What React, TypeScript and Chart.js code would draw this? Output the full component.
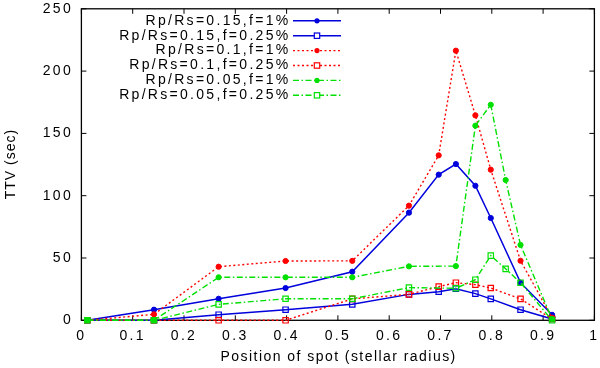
import { useEffect, useRef } from 'react';
import { Chart, registerables } from 'chart.js';

Chart.register(...registerables);

// spot positions (stellar radius)
const posBlueRed = [0.0115, 0.1415, 0.2675, 0.398, 0.528, 0.6385, 0.6965, 0.730, 0.768, 0.798, 0.856, 0.9175];
const posGreen = [0.0115, 0.1415, 0.2675, 0.398, 0.528, 0.6385, 0.730, 0.768, 0.798, 0.827, 0.856, 0.9175];

// TTV (sec)
const ttvR015f1 = [0, 8.5, 17.3, 25.9, 39.0, 86.4, 116.9, 125.4, 108.0, 82.1, 30.2, 4.4];
const ttvR015f025 = [0, 0, 4.5, 8.5, 12.8, 20.8, 23.0, 25.4, 21.4, 17.2, 8.5, 1.0];
const ttvR01f1 = [0, 4.8, 43.0, 47.6, 47.7, 92.0, 132.4, 216.4, 164.5, 120.9, 47.8, 2.0];
const ttvR01f025 = [0, 0, 0, 0, 17.2, 20.8, 27.0, 30.2, 28.6, 25.9, 17.2, 1.0];
const ttvR005f1 = [0, 0, 34.5, 34.5, 34.5, 43.3, 43.5, 156.2, 173.0, 112.6, 60.5, 1.0];
const ttvR005f025 = [0, 0, 12.8, 17.3, 17.3, 26.2, 25.7, 32.6, 51.9, 41.3, 30.2, 0];

const seriesLabels = [
  'Rp/Rs=0.15,f=1%',
  'Rp/Rs=0.15,f=0.25%',
  'Rp/Rs=0.1,f=1%',
  'Rp/Rs=0.1,f=0.25%',
  'Rp/Rs=0.05,f=1%',
  'Rp/Rs=0.05,f=0.25%',
];

const xTitle = 'Position of spot (stellar radius)';
const yTitle = 'TTV (sec)';

const BLUE = '#0000dd';
const RED = '#ff0000';
const GREEN = '#00e000';
const FONT = "'Liberation Sans', Arial, Helvetica, sans-serif";
const LS = 2.3;
const LS_TITLE = 1.45;

const DOTTED = [2, 2.5];
const DASHDOT = [6, 2.5, 1.5, 2.5];

type Style = { color: string; dash: number[]; marker: 'circle' | 'rect'; width: number };
const styles: Style[] = [
  { color: BLUE, dash: [], marker: 'circle', width: 1.5 },
  { color: BLUE, dash: [], marker: 'rect', width: 1.5 },
  { color: RED, dash: DOTTED, marker: 'circle', width: 1.4 },
  { color: RED, dash: DOTTED, marker: 'rect', width: 1.4 },
  { color: GREEN, dash: DASHDOT, marker: 'circle', width: 1.4 },
  { color: GREEN, dash: DASHDOT, marker: 'rect', width: 1.4 },
];

const seriesX = [posBlueRed, posBlueRed, posBlueRed, posBlueRed, posGreen, posGreen];
const seriesY = [ttvR015f1, ttvR015f025, ttvR01f1, ttvR01f025, ttvR005f1, ttvR005f025];

const framePlugin = {
  id: 'gnuframe',
  beforeDraw(chart: any) {
    (chart.ctx as any).letterSpacing = LS + 'px';
  },
  beforeDatasetsDraw(chart: any) {
    const { ctx, chartArea, scales } = chart;
    const { left, right, top, bottom } = chartArea;
    ctx.save();
    ctx.strokeStyle = '#000';
    ctx.lineWidth = 1.3;
    ctx.setLineDash([]);
    ctx.strokeRect(left, top, right - left, bottom - top);
    ctx.lineWidth = 1;
    const tl = 5;
    ctx.beginPath();
    scales.x.ticks.forEach((t: any) => {
      const px = scales.x.getPixelForValue(t.value);
      ctx.moveTo(px, bottom);
      ctx.lineTo(px, bottom - tl);
      ctx.moveTo(px, top);
      ctx.lineTo(px, top + tl);
    });
    scales.y.ticks.forEach((t: any) => {
      const py = scales.y.getPixelForValue(t.value);
      ctx.moveTo(left, py);
      ctx.lineTo(left + tl, py);
      ctx.moveTo(right, py);
      ctx.lineTo(right - tl, py);
    });
    ctx.stroke();
    ctx.restore();
  },
  afterDraw(chart: any) {
    const { ctx, chartArea } = chart;
    ctx.save();
    ctx.font = `14px ${FONT}`;
    ctx.fillStyle = '#000';
    ctx.textBaseline = 'middle';
    ctx.textAlign = 'center';
    // axis titles
    (ctx as any).letterSpacing = LS_TITLE + 'px';
    ctx.fillText(xTitle, (chartArea.left + chartArea.right) / 2 + LS_TITLE / 2, 357.5);
    (ctx as any).letterSpacing = '1px';
    ctx.save();
    ctx.translate(11.5, (chartArea.top + chartArea.bottom) / 2);
    ctx.rotate(-Math.PI / 2);
    ctx.fillText(yTitle, 0.5, 0);
    ctx.restore();
    // legend
    (ctx as any).letterSpacing = LS + 'px';
    ctx.textAlign = 'right';
    const textRight = 290.5;
    const x0 = 293;
    const x1 = 341;
    const xm = 317;
    seriesLabels.forEach((lab, i) => {
      const y = 20.8 + i * 14.9;
      const s = styles[i];
      ctx.fillStyle = '#000';
      ctx.fillText(lab, textRight, y);
      ctx.strokeStyle = s.color;
      ctx.lineWidth = s.width;
      ctx.setLineDash(s.dash);
      ctx.beginPath();
      ctx.moveTo(x0, y);
      ctx.lineTo(x1, y);
      ctx.stroke();
      ctx.setLineDash([]);
      if (s.marker === 'circle') {
        ctx.fillStyle = s.color;
        ctx.beginPath();
        ctx.arc(xm, y, 2.6, 0, Math.PI * 2);
        ctx.fill();
      } else {
        ctx.fillStyle = '#fff';
        ctx.fillRect(xm - 2.7, y - 2.7, 5.4, 5.4);
        ctx.lineWidth = 1.2;
        ctx.strokeRect(xm - 2.7, y - 2.7, 5.4, 5.4);
      }
    });
    ctx.restore();
  },
};

export default function App() {
  const ref = useRef<HTMLCanvasElement>(null);
  useEffect(() => {
    if (!ref.current) return;
    const datasets = seriesLabels.map((label, i) => {
      const s = styles[i];
      return {
        label,
        data: seriesX[i].map((x, k) => ({ x, y: seriesY[i][k] })),
        borderColor: s.color,
        backgroundColor: s.marker === 'circle' ? s.color : 'rgba(0,0,0,0)',
        borderWidth: s.width,
        borderDash: s.dash,
        pointStyle: s.marker,
        pointRadius: s.marker === 'circle' ? 2.6 : 3.8,
        pointBorderWidth: s.marker === 'circle' ? 1 : 1.2,
        pointBorderColor: s.color,
        pointBackgroundColor: s.marker === 'circle' ? s.color : 'rgba(0,0,0,0)',
        tension: 0,
        fill: false,
        clip: false as any,
        order: 5 - i,
      };
    });
    const chart = new Chart(ref.current, {
      type: 'line',
      data: { datasets },
      plugins: [framePlugin],
      options: {
        responsive: false,
        animation: false,
        layout: { padding: { top: 8.8, right: 5.6, left: 0, bottom: 0 } },
        plugins: { legend: { display: false }, tooltip: { enabled: false } },
        scales: {
          x: {
            type: 'linear',
            min: 0,
            max: 1,
            grid: { display: false, drawTicks: false },
            border: { display: false },
            ticks: {
              stepSize: 0.1,
              padding: 7,
              maxRotation: 0,
              autoSkip: false,
              color: '#000',
              font: { family: FONT, size: 14 },
              callback: (v: any) => String(Math.round(Number(v) * 10) / 10),
            },
            title: { display: false, text: xTitle },
            afterFit: (scale: any) => {
              scale.height = 47.7;
              scale.paddingLeft = 0;
              scale.paddingRight = 0;
            },
          },
          y: {
            min: 0,
            max: 250,
            grid: { display: false, drawTicks: false },
            border: { display: false },
            ticks: {
              stepSize: 50,
              padding: 8.4,
              color: '#000',
              font: { family: FONT, size: 14 },
            },
            title: { display: false, text: yTitle },
            afterFit: (scale: any) => {
              scale.width = 81.4;
              scale.paddingTop = 0;
              scale.paddingBottom = 0;
            },
          },
        },
      },
    });
    return () => chart.destroy();
  }, []);
  return (
    <div style={{ position: 'absolute', left: 0, top: 0, width: 600, height: 368, background: '#fff' }}>
      <canvas ref={ref} width={600} height={368} />
    </div>
  );
}
